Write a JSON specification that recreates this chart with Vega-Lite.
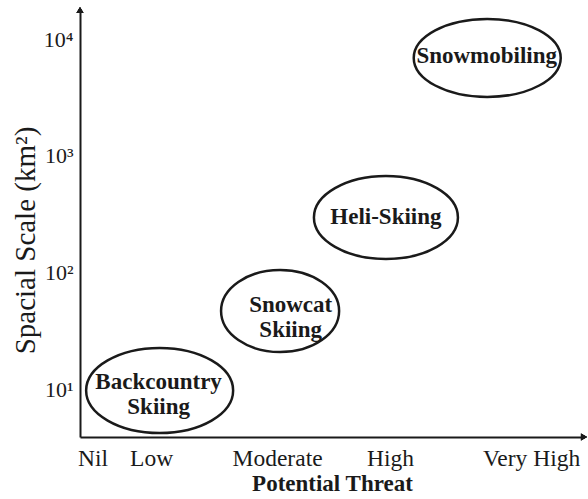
{
  "$schema": "https://vega.github.io/schema/vega-lite/v6.json",
  "width": 504,
  "height": 427,
  "autosize": {"type": "none"},
  "padding": {"left": 80, "top": 10, "right": 4, "bottom": 62},
  "background": "white",
  "config": {
    "view": {"stroke": null},
    "font": "Liberation Serif",
    "axis": {"grid": false, "ticks": false, "domainColor": "#1a1a1a", "domainWidth": 2, "labelColor": "#1a1a1a", "titleColor": "#1a1a1a", "labelFont": "Liberation Serif", "titleFont": "Liberation Serif"}
  },
  "data": {
    "values": [
      {"activity": "Backcountry Skiing", "label": "Backcountry\nSkiing", "threat": 15.8, "scale": 9.9, "label_threat": 15.6, "label_scale": 11.7},
      {"activity": "Snowcat Skiing", "label": "Snowcat\nSkiing", "threat": 39.7, "scale": 47.3, "label_threat": 41.8, "label_scale": 53.3},
      {"activity": "Heli-Skiing", "label": "Heli-Skiing", "threat": 60.7, "scale": 298, "label_threat": 60.7, "label_scale": 301},
      {"activity": "Snowmobiling", "label": "Snowmobiling", "threat": 80.8, "scale": 6890, "label_threat": 80.7, "label_scale": 7160}
    ]
  },
  "layer": [
    {
      "mark": {"type": "point", "filled": false, "stroke": "#1a1a1a", "strokeWidth": 2.5, "size": 22500, "opacity": 1},
      "encoding": {
        "x": {
          "field": "threat", "type": "quantitative",
          "scale": {"domain": [0, 100], "nice": false, "zero": false},
          "axis": {
            "values": [2.48, 14.1, 39.1, 61.5, 89.5],
            "labelExpr": "datum.value < 5 ? 'Nil' : datum.value < 20 ? 'Low' : datum.value < 50 ? 'Moderate' : datum.value < 70 ? 'High' : 'Very High'",
            "labelFontSize": 23.5, "labelPadding": 9, "labelFlush": false, "labelOverlap": false,
            "title": "Potential Threat", "titleFontSize": 23, "titleFontWeight": "bold", "titlePadding": 3
          }
        },
        "y": {
          "field": "scale", "type": "quantitative",
          "scale": {"type": "log", "domain": [3.963, 17701], "nice": false},
          "axis": {
            "values": [10, 100, 1000, 10000],
            "labelExpr": "datum.value == 10 ? '10¹' : datum.value == 100 ? '10²' : datum.value == 1000 ? '10³' : '10⁴'",
            "labelFontSize": 22, "labelPadding": 7, "labelFlush": false, "labelOverlap": false,
            "title": "Spacial Scale (km²)", "titleFontSize": 29, "titleFontWeight": "normal",
            "titleX": -55, "titleY": 230, "titleAngle": -90, "titleBaseline": "middle"
          }
        },
        "shape": {
          "field": "activity", "type": "nominal", "legend": null,
          "scale": {
            "domain": ["Backcountry Skiing", "Snowcat Skiing", "Heli-Skiing", "Snowmobiling"],
            "range": [
              "M-0.98,0A0.98,0.567,0,1,1,0.98,0A0.98,0.567,0,1,1,-0.98,0Z",
              "M-0.787,0A0.787,0.547,0,1,1,0.787,0A0.787,0.547,0,1,1,-0.787,0Z",
              "M-0.96,0A0.96,0.553,0,1,1,0.96,0A0.96,0.553,0,1,1,-0.96,0Z",
              "M-0.98,0A0.98,0.52,0,1,1,0.98,0A0.98,0.52,0,1,1,-0.98,0Z"
            ]
          }
        }
      }
    },
    {
      "mark": {"type": "text", "font": "Liberation Serif", "fontWeight": "bold", "fontSize": 23, "lineBreak": "\n", "lineHeight": 25, "align": "center", "baseline": "middle", "color": "#1a1a1a"},
      "encoding": {
        "x": {"field": "label_threat", "type": "quantitative"},
        "y": {"field": "label_scale", "type": "quantitative"},
        "text": {"field": "label"}
      }
    },
    {
      "mark": {"type": "point", "shape": "triangle-up", "filled": true, "color": "#1a1a1a", "size": 50, "opacity": 1, "clip": false},
      "encoding": {
        "x": {"datum": 0, "type": "quantitative"},
        "y": {"datum": 17701, "type": "quantitative"}
      }
    },
    {
      "mark": {"type": "point", "shape": "triangle-right", "filled": true, "color": "#1a1a1a", "size": 50, "opacity": 1, "clip": false},
      "encoding": {
        "x": {"datum": 100, "type": "quantitative"},
        "y": {"datum": 3.963, "type": "quantitative"}
      }
    }
  ]
}
